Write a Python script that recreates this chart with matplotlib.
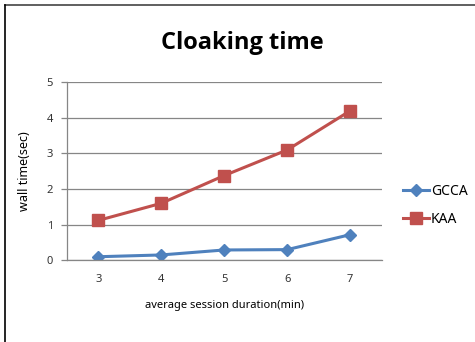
import matplotlib
matplotlib.use("Agg")
import matplotlib.pyplot as plt
from matplotlib.lines import Line2D

# Wall time per cloaking run, by average session duration
durations = [3, 4, 5, 6, 7]
gcca = [0.10, 0.15, 0.29, 0.30, 0.72]
kaa = [1.12, 1.60, 2.38, 3.10, 4.20]
yticks = [0, 1, 2, 3, 4, 5]

blue = "#4F81BD"
red = "#C0504D"
axis_gray = "#868686"

plt.rcParams["font.family"] = ["Noto Sans", "DejaVu Sans"]

fig = plt.figure(figsize=(4.75, 3.42), dpi=100)
ax = fig.add_axes([0.1404, 0.2389, 0.6632, 0.5205])

ax.plot(durations, gcca, color=blue, lw=2.2, marker="D", ms=6,
        mec=blue, mfc=blue, label="GCCA")
ax.plot(durations, kaa, color=red, lw=2.2, marker="s", ms=8,
        mec=red, mfc=red, label="KAA")

ax.set_xlim(2.5, 7.5)
ax.set_ylim(0, 5)
ax.set_xticks(durations)
ax.set_yticks(yticks)
ax.grid(axis="y", color=axis_gray, lw=0.9)
ax.set_axisbelow(True)

for side in ("top", "right"):
    ax.spines[side].set_visible(False)
for side in ("left", "bottom"):
    ax.spines[side].set_color(axis_gray)
    ax.spines[side].set_linewidth(0.9)

ax.tick_params(axis="x", length=0, pad=10, labelsize=8, colors="#333333")
ax.tick_params(axis="y", length=4, width=0.9, color=axis_gray, pad=6,
               labelsize=8, labelcolor="#333333")

ax.set_xlabel("average session duration(min)", fontsize=8, labelpad=11)
ax.set_ylabel("wall time(sec)", fontsize=9, labelpad=11)

fig.text(0.51, 0.873, "Cloaking time", ha="center", va="center",
         fontsize=17, fontweight="bold", family=["Open Sans", "DejaVu Sans"])

ax.legend(loc="center left", bbox_to_anchor=(1.05, 0.31), frameon=False,
          fontsize=10, handlelength=1.9, handletextpad=0.1, labelspacing=0.95,
          borderaxespad=0)

# outer chart frame: top and left edges only
fig.add_artist(Line2D([0.011, 1.0], [0.985, 0.985], color="#444444",
                      lw=1.2, transform=fig.transFigure))
fig.add_artist(Line2D([0.011, 0.011], [0.0, 0.985], color="#000000",
                      lw=1.2, transform=fig.transFigure))

fig.savefig("out.png", dpi=100)
